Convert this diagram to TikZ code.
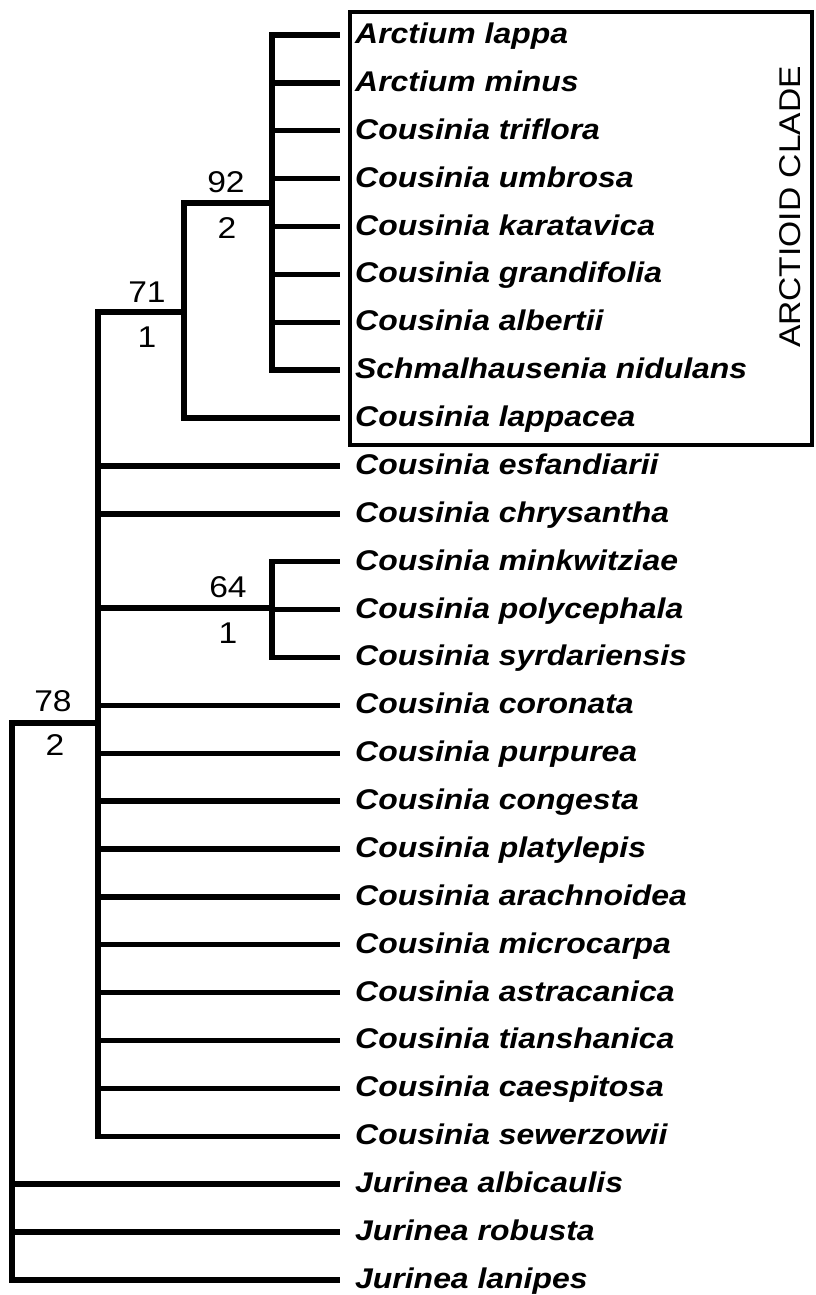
\documentclass[tikz,border=0pt]{standalone}
\usepackage{fontspec}
\newfontfamily\labfont[FakeStretch=1.12]{Liberation Sans}
\newfontfamily\numfont[FakeStretch=1.12]{Liberation Sans}
\begin{document}
\begin{tikzpicture}[x=1pt,y=-1pt,
  branch/.style={line width=5.4pt},
  taxon/.style={anchor=base west, inner sep=0pt, font=\labfont\fontsize{28.5}{34}\selectfont\bfseries\itshape},
  support/.style={anchor=base, inner sep=0pt, font=\numfont\fontsize{30}{36}\selectfont}]
\useasboundingbox (0,0) rectangle (816,1295);
\fill[white] (0,0) rectangle (816,1295);
% clade box
\draw[line width=4.8pt] (350,12) rectangle (812,445);
\node[rotate=90, inner sep=0pt, font=\numfont\fontsize{30}{36}\selectfont] (clade) at (790,207) {ARCTIOID CLADE};
% taxa
\foreach \i/\t in {0/Arctium lappa,1/Arctium minus,2/Cousinia triflora,3/Cousinia umbrosa,
  4/Cousinia karatavica,5/Cousinia grandifolia,6/Cousinia albertii,7/Schmalhausenia nidulans,
  8/Cousinia lappacea,9/Cousinia esfandiarii,10/Cousinia chrysantha,11/Cousinia minkwitziae,
  12/Cousinia polycephala,13/Cousinia syrdariensis,14/Cousinia coronata,15/Cousinia purpurea,
  16/Cousinia congesta,17/Cousinia platylepis,18/Cousinia arachnoidea,19/Cousinia microcarpa,
  20/Cousinia astracanica,21/Cousinia tianshanica,22/Cousinia caespitosa,23/Cousinia sewerzowii,
  24/Jurinea albicaulis,25/Jurinea robusta,26/Jurinea lanipes}{
  \pgfmathsetmacro\yy{35+47.88*\i}
  \coordinate (e\i) at (340,\yy);
  \node[taxon] (t\i) at (355,\yy+8.5) {\t};
}
% internal nodes
\coordinate (c0) at (12,723);
\coordinate (c78) at (98,723);
\coordinate (c71) at (184,312);
\coordinate (c92) at (272,203);
\coordinate (c64) at (272,608);
% root
\draw[branch] (c78) -- (c0) |- (e26);
\draw[branch] (c0) |- (e24);
\draw[branch] (c0) |- (e25);
% node 78
\draw[branch] (c78) |- (c71);
\draw[branch] (c78) |- (e23);
\foreach \i in {9,10,14,15,16,17,18,19,20,21,22}{\draw[branch] (c78) |- (e\i);}
\draw[branch] (c78) |- (c64);
% node 71
\draw[branch] (c71) |- (c92);
\draw[branch] (c71) |- (e8);
% node 92
\foreach \i in {0,...,7}{\draw[branch] (c92) |- (e\i);}
% node 64
\foreach \i in {11,12,13}{\draw[branch] (c64) |- (e\i);}
% support values
\node[support] (s92a) at (226,192) {92};
\node[support] (s92b) at (227,238) {2};
\node[support] (s71a) at (147,302) {71};
\node[support] (s71b) at (147,347) {1};
\node[support] (s64a) at (228,597) {64};
\node[support] (s64b) at (228,643) {1};
\node[support] (s78a) at (53,711) {78};
\node[support] (s78b) at (55,755) {2};
\end{tikzpicture}
\end{document}
